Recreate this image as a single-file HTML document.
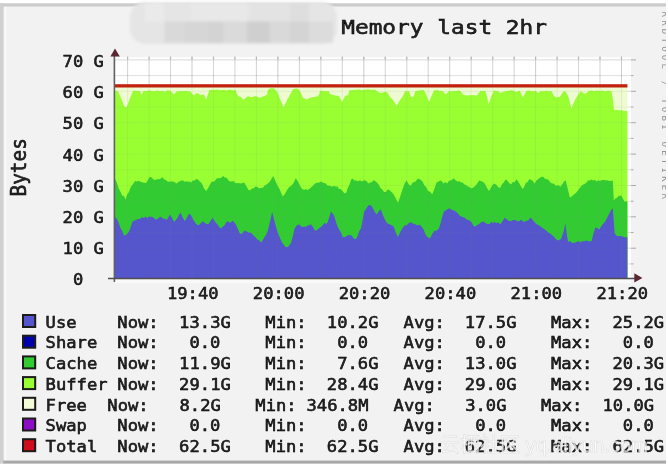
<!DOCTYPE html><html><head><meta charset="utf-8"><title>Memory last 2hr</title><style>html,body{margin:0;padding:0;background:#fff;width:668px;height:467px;overflow:hidden}svg{display:block}text{font-family:"DejaVu Sans Mono","Liberation Mono",monospace;fill:#262626}</style></head><body><svg width="668" height="467" viewBox="0 0 668 467"><defs><filter id="bl" x="-5%" y="-5%" width="110%" height="110%"><feGaussianBlur stdDeviation="0.6"/></filter></defs><rect x="0" y="0" width="668" height="467" fill="#ffffff"/><g filter="url(#bl)"><rect x="0" y="0" width="668" height="467" fill="#ffffff"/><rect x="0" y="3.2" width="666" height="460.4" fill="#f2f2f2"/><rect x="3.6" y="6.5" width="3" height="454" fill="#f7f7f7"/><rect x="0" y="3.3" width="666" height="3.2" fill="#cccccc"/><rect x="0" y="3.3" width="3.6" height="460.3" fill="#d0d0d0"/><rect x="3.2" y="460.6" width="663" height="3" fill="#a8a8a8"/><defs><filter id="hb" x="-5%" y="-20%" width="110%" height="140%"><feGaussianBlur stdDeviation="1.6"/></filter></defs><g filter="url(#hb)"><rect x="130" y="2" width="207" height="42" rx="15" fill="#e5e5e5"/><rect x="145" y="3" width="19" height="18.5" fill="#eaeaea"/><rect x="191" y="3" width="56" height="18.5" fill="#e8e8e8"/><rect x="250" y="3" width="40" height="18.5" fill="#e3e3e3"/><rect x="290" y="3" width="19" height="18.5" fill="#dedede"/><rect x="164.5" y="21.4" width="19.8" height="21.4" fill="#d9d9d9"/><rect x="184.3" y="21.4" width="23.0" height="21.4" fill="#d6d6d6"/><rect x="207.3" y="21.4" width="16.5" height="21.4" fill="#d3d3d3"/><rect x="223.8" y="21.4" width="23.1" height="21.4" fill="#dadada"/><rect x="246.9" y="21.4" width="23.0" height="21.4" fill="#cfcfcf"/><rect x="269.9" y="21.4" width="19.8" height="21.4" fill="#d9d9d9"/><rect x="289.7" y="21.4" width="19.7" height="21.4" fill="#d4d4d4"/><rect x="309.4" y="21.4" width="23.6" height="21.4" fill="#dcdcdc"/></g><text transform="matrix(1.14 0 0 1 341.20 34.00)" style="font-size:20.0px;letter-spacing:0.0px;stroke:#000;stroke-width:0.5px">Memory last 2hr</text><rect x="114.5" y="57.3" width="516.5" height="221.7" fill="#ffffff"/><g><line x1="114.5" y1="263.9" x2="631" y2="263.9" stroke="#808080" stroke-opacity="0.180" stroke-width="1"/><line x1="114.5" y1="248.2" x2="631" y2="248.2" stroke="#808080" stroke-opacity="0.220" stroke-width="1"/><line x1="114.5" y1="232.5" x2="631" y2="232.5" stroke="#808080" stroke-opacity="0.180" stroke-width="1"/><line x1="114.5" y1="216.8" x2="631" y2="216.8" stroke="#808080" stroke-opacity="0.220" stroke-width="1"/><line x1="114.5" y1="201.2" x2="631" y2="201.2" stroke="#808080" stroke-opacity="0.180" stroke-width="1"/><line x1="114.5" y1="185.5" x2="631" y2="185.5" stroke="#808080" stroke-opacity="0.220" stroke-width="1"/><line x1="114.5" y1="169.8" x2="631" y2="169.8" stroke="#808080" stroke-opacity="0.180" stroke-width="1"/><line x1="114.5" y1="154.1" x2="631" y2="154.1" stroke="#808080" stroke-opacity="0.220" stroke-width="1"/><line x1="114.5" y1="138.4" x2="631" y2="138.4" stroke="#808080" stroke-opacity="0.180" stroke-width="1"/><line x1="114.5" y1="122.7" x2="631" y2="122.7" stroke="#808080" stroke-opacity="0.220" stroke-width="1"/><line x1="114.5" y1="107.0" x2="631" y2="107.0" stroke="#808080" stroke-opacity="0.180" stroke-width="1"/><line x1="114.5" y1="91.3" x2="631" y2="91.3" stroke="#808080" stroke-opacity="0.220" stroke-width="1"/><line x1="114.5" y1="75.6" x2="631" y2="75.6" stroke="#808080" stroke-opacity="0.180" stroke-width="1"/><line x1="114.5" y1="59.9" x2="631" y2="59.9" stroke="#808080" stroke-opacity="0.220" stroke-width="1"/><line x1="127.6" y1="57.3" x2="127.6" y2="279.0" stroke="#808080" stroke-opacity="0.260" stroke-width="1"/><line x1="149.1" y1="57.3" x2="149.1" y2="279.0" stroke="#808080" stroke-opacity="0.260" stroke-width="1"/><line x1="170.5" y1="57.3" x2="170.5" y2="279.0" stroke="#808080" stroke-opacity="0.260" stroke-width="1"/><line x1="192.0" y1="57.3" x2="192.0" y2="279.0" stroke="#808080" stroke-opacity="0.300" stroke-width="1"/><line x1="213.5" y1="57.3" x2="213.5" y2="279.0" stroke="#808080" stroke-opacity="0.260" stroke-width="1"/><line x1="234.9" y1="57.3" x2="234.9" y2="279.0" stroke="#808080" stroke-opacity="0.260" stroke-width="1"/><line x1="256.4" y1="57.3" x2="256.4" y2="279.0" stroke="#808080" stroke-opacity="0.260" stroke-width="1"/><line x1="277.9" y1="57.3" x2="277.9" y2="279.0" stroke="#808080" stroke-opacity="0.300" stroke-width="1"/><line x1="299.4" y1="57.3" x2="299.4" y2="279.0" stroke="#808080" stroke-opacity="0.260" stroke-width="1"/><line x1="320.9" y1="57.3" x2="320.9" y2="279.0" stroke="#808080" stroke-opacity="0.260" stroke-width="1"/><line x1="342.3" y1="57.3" x2="342.3" y2="279.0" stroke="#808080" stroke-opacity="0.260" stroke-width="1"/><line x1="363.8" y1="57.3" x2="363.8" y2="279.0" stroke="#808080" stroke-opacity="0.300" stroke-width="1"/><line x1="385.3" y1="57.3" x2="385.3" y2="279.0" stroke="#808080" stroke-opacity="0.260" stroke-width="1"/><line x1="406.8" y1="57.3" x2="406.8" y2="279.0" stroke="#808080" stroke-opacity="0.260" stroke-width="1"/><line x1="428.2" y1="57.3" x2="428.2" y2="279.0" stroke="#808080" stroke-opacity="0.260" stroke-width="1"/><line x1="449.7" y1="57.3" x2="449.7" y2="279.0" stroke="#808080" stroke-opacity="0.300" stroke-width="1"/><line x1="471.2" y1="57.3" x2="471.2" y2="279.0" stroke="#808080" stroke-opacity="0.260" stroke-width="1"/><line x1="492.7" y1="57.3" x2="492.7" y2="279.0" stroke="#808080" stroke-opacity="0.260" stroke-width="1"/><line x1="514.1" y1="57.3" x2="514.1" y2="279.0" stroke="#808080" stroke-opacity="0.260" stroke-width="1"/><line x1="535.6" y1="57.3" x2="535.6" y2="279.0" stroke="#808080" stroke-opacity="0.300" stroke-width="1"/><line x1="557.1" y1="57.3" x2="557.1" y2="279.0" stroke="#808080" stroke-opacity="0.260" stroke-width="1"/><line x1="578.5" y1="57.3" x2="578.5" y2="279.0" stroke="#808080" stroke-opacity="0.260" stroke-width="1"/><line x1="600.0" y1="57.3" x2="600.0" y2="279.0" stroke="#808080" stroke-opacity="0.260" stroke-width="1"/><line x1="621.5" y1="57.3" x2="621.5" y2="279.0" stroke="#808080" stroke-opacity="0.300" stroke-width="1"/></g><rect x="114.5" y="86" width="512.9" height="193.0" fill="#eefad0"/><polygon points="114.5,91.0 116.2,90.7 118.0,91.0 118.3,92.0 121.0,98.0 122.8,102.8 124.6,107.0 126.7,107.0 128.3,102.7 130.0,98.0 133.0,91.0 134.8,90.8 136.5,91.0 138.2,91.0 140.0,91.0 141.7,95.0 143.5,91.0 145.2,91.1 146.9,91.3 148.6,90.6 150.3,90.6 152.0,91.3 153.7,90.9 155.4,91.2 157.1,90.5 158.8,91.0 160.5,91.2 162.2,90.8 163.9,91.4 165.6,91.4 167.3,90.6 169.0,90.6 170.7,91.0 172.3,92.8 174.0,94.6 177.0,91.0 178.7,91.5 180.4,91.0 182.1,90.9 183.8,91.2 185.4,90.9 187.1,91.1 188.8,91.4 190.5,91.5 193.6,95.6 195.3,94.3 197.0,93.0 199.0,94.1 201.0,95.6 203.5,94.0 206.2,99.8 209.0,91.0 209.5,90.0 211.1,89.8 212.8,89.7 214.4,90.0 216.0,89.8 217.6,89.6 219.2,90.3 220.9,90.1 222.5,90.1 224.1,89.7 225.8,90.4 227.4,90.3 229.0,89.7 230.6,89.8 232.2,90.2 233.9,90.2 235.5,90.0 238.0,96.0 241.0,97.0 243.0,99.8 246.0,97.7 248.0,96.0 250.0,96.9 252.0,97.0 254.0,96.4 256.0,96.0 258.0,97.2 260.0,97.7 262.0,97.0 264.0,96.0 266.9,95.0 268.0,90.0 270.0,88.5 272.0,88.3 274.0,88.5 275.5,90.0 277.3,92.0 280.0,99.0 281.8,103.1 283.6,107.0 285.3,103.8 287.0,100.0 288.7,97.3 290.3,94.0 292.0,91.0 293.0,89.0 294.8,89.1 296.5,88.6 298.3,89.0 300.4,92.0 303.0,97.7 304.9,98.5 306.7,99.8 308.4,99.0 310.0,97.7 312.0,97.3 314.0,97.0 317.0,96.5 319.0,95.0 320.0,91.0 321.7,90.7 323.4,91.0 325.2,91.2 326.9,91.2 328.6,91.0 330.0,94.0 331.7,94.4 333.3,95.0 335.0,95.6 337.0,95.8 339.0,96.0 342.2,102.0 345.0,96.0 348.0,95.0 349.5,90.0 351.2,90.2 352.9,90.0 354.5,89.8 356.2,89.9 357.9,89.4 359.6,89.4 361.3,90.0 362.9,90.2 364.6,89.8 366.3,89.6 368.0,89.3 369.7,89.6 371.3,90.0 373.0,89.8 374.7,89.5 376.0,90.5 378.0,91.8 380.0,93.0 382.0,92.8 384.0,92.0 387.0,92.0 390.0,97.0 393.0,100.0 394.8,102.8 396.6,106.0 398.3,103.0 400.0,100.0 403.0,96.0 405.0,91.0 407.0,91.4 409.0,91.0 411.0,96.7 413.5,96.7 415.4,91.0 417.1,90.9 418.8,90.6 420.4,90.2 422.1,90.2 423.8,90.0 426.5,95.0 429.0,102.0 431.5,96.0 434.3,90.0 436.0,90.6 437.7,90.0 439.3,90.9 441.0,91.1 442.7,91.0 444.4,93.1 446.0,94.5 449.0,91.0 450.6,91.2 452.3,91.3 453.9,91.0 455.5,91.1 457.1,90.9 458.8,90.6 460.4,91.0 463.0,94.6 464.7,95.3 466.3,95.3 468.0,95.6 469.7,95.1 471.3,95.2 473.0,95.0 475.0,95.3 477.0,95.6 478.6,93.2 480.3,91.0 482.0,90.9 483.8,91.0 485.5,91.0 488.7,104.0 491.5,96.0 494.0,90.5 496.0,90.9 498.0,91.0 500.0,93.0 503.0,92.0 506.0,91.0 507.8,91.0 509.5,90.7 511.2,90.2 513.0,90.5 516.0,92.0 519.0,91.0 520.0,91.0 523.0,97.7 524.6,94.1 526.3,91.0 528.2,90.7 530.1,91.1 531.9,91.3 533.8,91.3 535.7,91.0 538.0,93.0 541.0,91.0 542.7,91.3 544.5,91.3 546.2,90.8 547.9,91.3 549.7,91.2 551.4,91.0 554.0,96.0 556.7,97.7 558.4,96.8 560.0,96.7 562.0,93.4 564.0,91.0 566.0,92.0 568.5,97.0 571.4,108.2 573.2,103.7 575.0,100.0 578.0,95.0 580.8,91.0 582.0,92.0 585.0,94.0 586.7,92.7 588.4,91.0 590.0,90.8 591.7,90.6 593.3,91.1 595.0,90.9 596.6,90.6 598.3,90.7 599.9,91.0 601.5,90.7 603.2,90.8 604.8,91.2 606.5,91.0 608.1,90.8 609.8,91.0 611.4,91.0 613.0,100.0 614.0,110.0 615.7,109.7 617.4,110.1 619.0,110.3 620.7,110.2 622.4,110.3 624.0,111.1 625.7,110.9 627.4,111.0 627.4,279.0 114.5,279.0" fill="#99ff33"/><polygon points="114.5,178.0 115.2,179.0 117.0,183.0 118.8,188.7 120.6,192.0 122.2,195.7 123.9,195.8 125.5,199.5 127.2,194.3 129.0,192.0 130.7,187.0 132.8,184.6 135.0,181.0 136.7,181.6 138.3,180.8 140.0,181.5 142.0,182.3 144.0,182.8 146.0,183.0 147.8,180.2 149.5,177.0 151.3,177.2 153.0,179.0 154.8,180.3 156.7,179.2 158.6,179.2 160.4,179.1 162.3,177.0 164.1,179.6 165.9,180.0 167.7,181.4 169.4,181.7 171.1,181.6 172.8,181.5 174.5,181.9 176.2,183.5 177.8,182.6 179.4,181.4 181.1,180.8 182.7,180.3 184.4,181.8 186.1,181.2 187.8,181.8 189.5,181.4 191.2,182.5 192.8,180.5 194.4,180.4 196.1,179.2 197.7,179.3 199.8,181.4 201.9,183.5 204.1,188.5 206.2,191.0 208.3,187.7 210.5,183.5 212.1,181.3 213.7,181.9 215.3,180.3 216.9,178.2 218.5,178.3 220.1,178.2 221.7,177.2 223.3,176.0 225.0,177.8 226.7,177.8 228.5,180.5 230.2,181.5 231.9,181.4 233.6,180.9 235.3,182.9 237.1,183.2 238.8,183.0 240.5,183.5 242.4,183.1 244.3,182.5 246.4,186.2 248.6,190.0 250.2,190.3 251.8,188.4 253.4,188.5 255.0,186.8 257.1,186.8 259.3,188.5 261.4,187.8 263.0,187.8 264.6,185.5 266.2,184.8 267.8,183.5 269.6,182.1 271.4,179.1 273.2,176.0 275.4,180.8 277.5,185.7 279.3,188.5 281.0,192.4 282.8,196.4 285.0,193.7 287.1,190.0 289.2,187.0 291.4,185.7 293.5,183.0 295.7,178.2 297.9,181.3 300.0,185.7 302.1,188.9 304.2,190.0 305.8,189.0 307.4,190.1 309.1,188.9 310.7,187.8 312.9,185.7 315.0,183.5 317.1,182.8 319.3,182.5 321.4,181.4 323.0,182.7 324.6,183.1 326.2,183.9 327.8,185.7 329.9,185.7 332.1,186.8 334.2,185.7 335.8,186.8 337.4,186.2 339.0,189.0 340.6,189.0 342.4,191.0 344.2,192.9 346.0,193.2 347.8,187.8 349.5,184.6 351.3,179.3 352.9,178.7 354.6,180.7 356.2,180.3 357.8,181.4 359.9,180.3 362.1,181.6 364.2,180.3 366.4,180.9 368.5,183.5 370.1,182.5 371.8,182.3 373.4,180.3 375.2,181.1 376.9,182.4 378.7,184.6 380.5,188.1 382.3,189.4 384.1,192.1 385.9,192.0 387.6,189.5 389.4,190.0 391.2,191.8 393.0,193.4 394.8,196.4 398.0,202.8 400.1,196.8 402.3,190.0 404.4,184.1 406.5,180.3 408.6,184.2 410.8,185.7 412.9,182.3 415.1,182.0 417.2,179.3 419.0,178.8 420.8,180.1 422.6,181.4 424.4,185.4 426.2,186.9 428.0,191.0 430.1,191.8 432.2,194.3 434.4,188.9 436.5,182.5 438.3,181.8 440.1,180.6 441.9,181.4 443.7,183.4 445.4,181.9 447.2,183.5 448.8,181.0 450.4,180.4 452.1,179.8 453.7,178.2 455.8,180.4 457.9,181.4 459.5,181.2 461.1,182.6 462.8,182.6 464.4,184.6 466.1,185.1 467.8,186.6 469.5,187.1 471.2,188.2 472.9,187.8 474.5,186.6 476.1,185.0 477.7,182.7 479.3,180.3 481.1,181.3 482.9,181.7 484.7,183.5 486.9,187.7 489.0,191.0 490.8,188.0 492.5,185.0 494.3,183.5 496.3,184.8 498.3,187.3 500.3,187.8 502.1,184.0 503.8,182.4 505.6,179.3 507.4,180.8 509.2,182.9 511.0,184.6 512.8,181.9 514.6,182.3 516.4,179.3 518.5,181.9 520.7,186.0 522.8,188.9 524.4,186.3 526.0,182.8 527.6,181.9 529.2,179.3 531.0,179.8 532.8,180.9 534.6,183.5 536.7,180.2 538.9,178.4 541.0,177.1 543.1,176.8 545.3,178.9 547.4,179.3 549.0,180.4 550.6,182.7 552.3,183.6 553.9,183.5 556.0,185.9 558.2,185.0 560.3,186.8 562.1,184.5 563.8,181.8 565.6,180.3 567.8,189.1 569.9,197.5 572.0,196.2 574.2,194.3 576.3,192.6 578.5,189.8 580.6,186.8 582.4,184.9 584.2,184.1 586.1,183.1 587.9,180.5 589.7,180.5 591.4,179.4 593.1,180.4 594.9,179.7 596.6,181.4 598.3,180.2 600.0,181.0 601.8,179.9 603.7,180.1 605.5,180.2 607.3,180.2 609.1,180.9 611.0,180.7 612.8,180.8 613.8,200.5 615.4,198.4 617.0,197.7 618.6,195.7 621.5,195.7 624.4,201.5 627.4,201.5 627.4,279.0 114.5,279.0" fill="#33cc33"/><polygon points="114.5,217.0 115.2,217.5 117.0,219.0 118.4,222.0 120.4,228.0 122.1,230.8 123.8,235.0 125.0,235.5 127.0,233.9 129.0,231.6 130.7,226.9 132.3,222.0 134.1,220.6 135.9,220.2 137.7,218.9 139.8,218.9 141.9,217.2 144.0,218.0 145.6,216.4 147.2,218.2 148.9,216.4 150.5,216.7 152.7,217.1 154.8,218.9 156.9,219.5 159.1,217.4 161.2,216.7 163.0,218.7 164.8,218.8 166.6,220.0 168.2,217.7 169.8,214.6 171.9,217.4 174.1,222.0 175.7,220.0 177.3,218.2 178.9,214.9 180.5,212.5 182.7,217.4 184.8,221.0 186.9,217.7 189.1,213.5 191.2,215.6 193.4,220.0 195.6,223.3 197.7,225.3 199.3,224.7 200.9,223.1 202.5,221.6 204.1,222.0 206.2,224.1 208.4,224.2 210.5,220.9 212.6,217.8 214.3,220.5 216.0,223.1 217.8,224.8 219.5,227.5 221.2,228.5 222.8,226.4 224.4,225.5 226.0,222.7 227.6,221.0 229.2,222.4 230.8,222.5 232.5,220.8 234.1,222.1 236.1,225.1 238.0,229.2 240.0,233.9 242.2,233.5 244.3,230.7 246.4,231.2 248.6,232.4 250.7,232.8 252.3,233.9 253.9,236.0 255.5,237.3 257.1,239.2 259.2,240.4 261.4,242.4 263.0,239.7 264.6,236.8 266.2,234.7 267.8,230.7 270.0,221.8 272.1,212.0 275.3,224.2 277.5,231.8 279.6,237.1 281.8,242.0 283.9,245.0 285.9,247.3 288.0,247.0 291.0,243.0 292.8,236.2 294.6,228.5 296.8,225.5 298.9,224.2 300.7,225.9 302.4,226.9 304.2,226.4 305.8,226.9 307.4,225.5 309.1,225.3 310.7,224.2 312.9,226.7 315.0,230.7 317.1,230.1 319.3,228.0 321.4,226.4 323.0,224.8 324.6,223.1 326.2,224.1 327.8,222.1 331.0,211.4 334.2,215.7 336.4,223.4 338.5,228.5 340.6,231.7 342.8,237.1 344.9,237.2 347.1,235.5 349.2,235.0 350.8,235.1 352.4,236.6 354.0,238.8 355.6,239.2 357.4,236.6 359.2,230.9 361.0,228.5 364.2,211.4 366.2,208.7 368.2,205.5 370.2,205.1 372.3,207.1 374.5,211.4 376.6,214.6 378.7,211.5 380.8,209.3 383.0,215.6 385.1,220.0 387.2,223.3 389.4,224.2 391.5,225.3 393.7,226.4 395.9,233.0 398.0,237.1 400.1,232.3 402.3,228.5 404.4,225.6 406.6,225.2 408.7,223.2 410.3,222.2 411.9,222.9 413.5,223.7 415.1,224.2 417.2,225.2 419.4,224.8 421.5,226.4 423.6,229.5 425.8,235.0 428.0,237.6 430.1,238.2 432.2,234.0 434.4,230.7 436.5,230.8 438.7,228.5 440.5,223.8 442.2,216.8 444.0,211.4 445.8,210.2 447.6,209.3 449.4,208.2 451.0,209.4 452.6,210.0 454.2,210.8 455.8,211.4 457.9,213.5 460.1,216.1 462.2,216.7 463.8,217.5 465.4,218.2 467.0,219.7 468.6,220.0 470.2,220.9 471.9,222.7 473.5,226.0 475.1,226.4 477.2,225.0 479.4,223.7 481.5,222.1 483.6,221.5 485.8,223.3 487.9,224.2 489.5,223.9 491.1,221.9 492.7,222.9 494.3,222.1 496.3,223.1 498.3,222.4 500.3,224.2 502.5,221.3 504.6,217.8 506.8,219.3 508.9,221.0 511.0,221.1 513.2,220.0 515.3,220.0 517.0,221.0 518.7,221.5 520.5,220.0 522.2,220.5 523.9,222.1 526.0,221.1 528.2,220.4 530.3,217.8 531.9,218.8 533.5,220.9 535.1,222.8 536.7,224.2 538.8,225.2 541.0,226.8 543.1,228.6 544.8,229.4 546.5,230.8 548.3,232.7 550.0,233.2 551.7,235.0 553.8,236.5 556.0,239.3 558.1,240.4 561.0,239.0 563.5,232.0 565.4,223.6 566.5,232.0 568.0,242.0 569.8,240.9 571.6,242.4 573.5,243.0 575.3,242.5 577.0,241.8 578.7,241.3 580.5,242.6 582.2,240.9 583.9,241.4 585.8,240.5 587.8,241.0 589.7,241.6 591.6,241.0 593.5,233.3 595.4,227.6 597.3,228.1 599.3,229.5 601.2,226.2 603.2,223.7 605.1,221.7 607.0,217.9 609.0,213.9 610.9,210.2 612.8,208.3 614.7,233.4 616.7,235.8 618.6,236.3 620.5,235.7 622.5,236.5 624.4,237.2 627.4,237.2 627.4,279.0 114.5,279.0" fill="#5555cc"/><g><line x1="114.5" y1="263.9" x2="631" y2="263.9" stroke="#808080" stroke-opacity="0.072" stroke-width="1"/><line x1="114.5" y1="248.2" x2="631" y2="248.2" stroke="#808080" stroke-opacity="0.088" stroke-width="1"/><line x1="114.5" y1="232.5" x2="631" y2="232.5" stroke="#808080" stroke-opacity="0.072" stroke-width="1"/><line x1="114.5" y1="216.8" x2="631" y2="216.8" stroke="#808080" stroke-opacity="0.088" stroke-width="1"/><line x1="114.5" y1="201.2" x2="631" y2="201.2" stroke="#808080" stroke-opacity="0.072" stroke-width="1"/><line x1="114.5" y1="185.5" x2="631" y2="185.5" stroke="#808080" stroke-opacity="0.088" stroke-width="1"/><line x1="114.5" y1="169.8" x2="631" y2="169.8" stroke="#808080" stroke-opacity="0.072" stroke-width="1"/><line x1="114.5" y1="154.1" x2="631" y2="154.1" stroke="#808080" stroke-opacity="0.088" stroke-width="1"/><line x1="114.5" y1="138.4" x2="631" y2="138.4" stroke="#808080" stroke-opacity="0.072" stroke-width="1"/><line x1="114.5" y1="122.7" x2="631" y2="122.7" stroke="#808080" stroke-opacity="0.088" stroke-width="1"/><line x1="114.5" y1="107.0" x2="631" y2="107.0" stroke="#808080" stroke-opacity="0.072" stroke-width="1"/><line x1="114.5" y1="91.3" x2="631" y2="91.3" stroke="#808080" stroke-opacity="0.088" stroke-width="1"/><line x1="114.5" y1="75.6" x2="631" y2="75.6" stroke="#808080" stroke-opacity="0.072" stroke-width="1"/><line x1="114.5" y1="59.9" x2="631" y2="59.9" stroke="#808080" stroke-opacity="0.088" stroke-width="1"/><line x1="127.6" y1="57.3" x2="127.6" y2="279.0" stroke="#808080" stroke-opacity="0.104" stroke-width="1"/><line x1="149.1" y1="57.3" x2="149.1" y2="279.0" stroke="#808080" stroke-opacity="0.104" stroke-width="1"/><line x1="170.5" y1="57.3" x2="170.5" y2="279.0" stroke="#808080" stroke-opacity="0.104" stroke-width="1"/><line x1="192.0" y1="57.3" x2="192.0" y2="279.0" stroke="#808080" stroke-opacity="0.120" stroke-width="1"/><line x1="213.5" y1="57.3" x2="213.5" y2="279.0" stroke="#808080" stroke-opacity="0.104" stroke-width="1"/><line x1="234.9" y1="57.3" x2="234.9" y2="279.0" stroke="#808080" stroke-opacity="0.104" stroke-width="1"/><line x1="256.4" y1="57.3" x2="256.4" y2="279.0" stroke="#808080" stroke-opacity="0.104" stroke-width="1"/><line x1="277.9" y1="57.3" x2="277.9" y2="279.0" stroke="#808080" stroke-opacity="0.120" stroke-width="1"/><line x1="299.4" y1="57.3" x2="299.4" y2="279.0" stroke="#808080" stroke-opacity="0.104" stroke-width="1"/><line x1="320.9" y1="57.3" x2="320.9" y2="279.0" stroke="#808080" stroke-opacity="0.104" stroke-width="1"/><line x1="342.3" y1="57.3" x2="342.3" y2="279.0" stroke="#808080" stroke-opacity="0.104" stroke-width="1"/><line x1="363.8" y1="57.3" x2="363.8" y2="279.0" stroke="#808080" stroke-opacity="0.120" stroke-width="1"/><line x1="385.3" y1="57.3" x2="385.3" y2="279.0" stroke="#808080" stroke-opacity="0.104" stroke-width="1"/><line x1="406.8" y1="57.3" x2="406.8" y2="279.0" stroke="#808080" stroke-opacity="0.104" stroke-width="1"/><line x1="428.2" y1="57.3" x2="428.2" y2="279.0" stroke="#808080" stroke-opacity="0.104" stroke-width="1"/><line x1="449.7" y1="57.3" x2="449.7" y2="279.0" stroke="#808080" stroke-opacity="0.120" stroke-width="1"/><line x1="471.2" y1="57.3" x2="471.2" y2="279.0" stroke="#808080" stroke-opacity="0.104" stroke-width="1"/><line x1="492.7" y1="57.3" x2="492.7" y2="279.0" stroke="#808080" stroke-opacity="0.104" stroke-width="1"/><line x1="514.1" y1="57.3" x2="514.1" y2="279.0" stroke="#808080" stroke-opacity="0.104" stroke-width="1"/><line x1="535.6" y1="57.3" x2="535.6" y2="279.0" stroke="#808080" stroke-opacity="0.120" stroke-width="1"/><line x1="557.1" y1="57.3" x2="557.1" y2="279.0" stroke="#808080" stroke-opacity="0.104" stroke-width="1"/><line x1="578.5" y1="57.3" x2="578.5" y2="279.0" stroke="#808080" stroke-opacity="0.104" stroke-width="1"/><line x1="600.0" y1="57.3" x2="600.0" y2="279.0" stroke="#808080" stroke-opacity="0.104" stroke-width="1"/><line x1="621.5" y1="57.3" x2="621.5" y2="279.0" stroke="#808080" stroke-opacity="0.120" stroke-width="1"/><rect x="127.0" y="56.6" width="1.2" height="2.6" fill="#b4b4b4"/><rect x="148.5" y="56.6" width="1.2" height="2.6" fill="#b4b4b4"/><rect x="169.9" y="56.6" width="1.2" height="2.6" fill="#b4b4b4"/><rect x="191.4" y="56.6" width="1.2" height="2.6" fill="#b4b4b4"/><rect x="212.9" y="56.6" width="1.2" height="2.6" fill="#b4b4b4"/><rect x="234.3" y="56.6" width="1.2" height="2.6" fill="#b4b4b4"/><rect x="255.8" y="56.6" width="1.2" height="2.6" fill="#b4b4b4"/><rect x="277.3" y="56.6" width="1.2" height="2.6" fill="#b4b4b4"/><rect x="298.8" y="56.6" width="1.2" height="2.6" fill="#b4b4b4"/><rect x="320.2" y="56.6" width="1.2" height="2.6" fill="#b4b4b4"/><rect x="341.7" y="56.6" width="1.2" height="2.6" fill="#b4b4b4"/><rect x="363.2" y="56.6" width="1.2" height="2.6" fill="#b4b4b4"/><rect x="384.7" y="56.6" width="1.2" height="2.6" fill="#b4b4b4"/><rect x="406.1" y="56.6" width="1.2" height="2.6" fill="#b4b4b4"/><rect x="427.6" y="56.6" width="1.2" height="2.6" fill="#b4b4b4"/><rect x="449.1" y="56.6" width="1.2" height="2.6" fill="#b4b4b4"/><rect x="470.6" y="56.6" width="1.2" height="2.6" fill="#b4b4b4"/><rect x="492.1" y="56.6" width="1.2" height="2.6" fill="#b4b4b4"/><rect x="513.5" y="56.6" width="1.2" height="2.6" fill="#b4b4b4"/><rect x="535.0" y="56.6" width="1.2" height="2.6" fill="#b4b4b4"/><rect x="556.5" y="56.6" width="1.2" height="2.6" fill="#b4b4b4"/><rect x="577.9" y="56.6" width="1.2" height="2.6" fill="#b4b4b4"/><rect x="599.4" y="56.6" width="1.2" height="2.6" fill="#b4b4b4"/><rect x="620.9" y="56.6" width="1.2" height="2.6" fill="#b4b4b4"/><rect x="631" y="263.4" width="2.5" height="1" fill="#aaaaaa"/><rect x="631" y="247.7" width="5" height="1" fill="#aaaaaa"/><rect x="631" y="232.0" width="2.5" height="1" fill="#aaaaaa"/><rect x="631" y="216.3" width="5" height="1" fill="#aaaaaa"/><rect x="631" y="200.7" width="2.5" height="1" fill="#aaaaaa"/><rect x="631" y="185.0" width="5" height="1" fill="#aaaaaa"/><rect x="631" y="169.3" width="2.5" height="1" fill="#aaaaaa"/><rect x="631" y="153.6" width="5" height="1" fill="#aaaaaa"/><rect x="631" y="137.9" width="2.5" height="1" fill="#aaaaaa"/><rect x="631" y="122.2" width="5" height="1" fill="#aaaaaa"/><rect x="631" y="106.5" width="2.5" height="1" fill="#aaaaaa"/><rect x="631" y="90.8" width="5" height="1" fill="#aaaaaa"/><rect x="631" y="75.1" width="2.5" height="1" fill="#aaaaaa"/><rect x="631" y="59.4" width="5" height="1" fill="#aaaaaa"/><rect x="115" y="279.6" width="516" height="3.6" fill="#ffffff" fill-opacity="0.55"/></g><defs><filter id="rb" x="-2%" y="-200%" width="104%" height="500%"><feGaussianBlur stdDeviation="0.45"/></filter></defs><rect x="114.5" y="84.2" width="512.9" height="3.3" fill="#c22010" filter="url(#rb)"/><line x1="114.4" y1="55" x2="114.4" y2="282" stroke="#606060" stroke-width="1.6"/><line x1="108" y1="278.6" x2="636" y2="278.6" stroke="#505050" stroke-width="1.5"/><polygon points="110.4,56.6 115,48.6 119.8,56.6" fill="#5a2630"/><polygon points="634.3,273.2 642.4,277.9 634.3,282.6" fill="#5a2630"/><text transform="matrix(1.06 0 0 1 62.60 67.20)" style="font-size:16.2px;letter-spacing:0.0px;stroke:#000;stroke-width:0.5px">70 G</text><text transform="matrix(1.06 0 0 1 62.60 98.20)" style="font-size:16.2px;letter-spacing:0.0px;stroke:#000;stroke-width:0.5px">60 G</text><text transform="matrix(1.06 0 0 1 62.60 129.40)" style="font-size:16.2px;letter-spacing:0.0px;stroke:#000;stroke-width:0.5px">50 G</text><text transform="matrix(1.06 0 0 1 62.60 160.60)" style="font-size:16.2px;letter-spacing:0.0px;stroke:#000;stroke-width:0.5px">40 G</text><text transform="matrix(1.06 0 0 1 62.60 191.80)" style="font-size:16.2px;letter-spacing:0.0px;stroke:#000;stroke-width:0.5px">30 G</text><text transform="matrix(1.06 0 0 1 62.60 223.00)" style="font-size:16.2px;letter-spacing:0.0px;stroke:#000;stroke-width:0.5px">20 G</text><text transform="matrix(1.06 0 0 1 62.60 254.20)" style="font-size:16.2px;letter-spacing:0.0px;stroke:#000;stroke-width:0.5px">10 G</text><text transform="matrix(1.06 0 0 1 73.00 285.00)" style="font-size:16.2px;letter-spacing:0.0px;stroke:#000;stroke-width:0.5px">0</text><text transform="matrix(1.06 0 0 1 166.90 298.80)" style="font-size:16.2px;letter-spacing:0.0px;stroke:#000;stroke-width:0.5px">19:40</text><text transform="matrix(1.06 0 0 1 252.80 298.80)" style="font-size:16.2px;letter-spacing:0.0px;stroke:#000;stroke-width:0.5px">20:00</text><text transform="matrix(1.06 0 0 1 338.70 298.80)" style="font-size:16.2px;letter-spacing:0.0px;stroke:#000;stroke-width:0.5px">20:20</text><text transform="matrix(1.06 0 0 1 424.60 298.80)" style="font-size:16.2px;letter-spacing:0.0px;stroke:#000;stroke-width:0.5px">20:40</text><text transform="matrix(1.06 0 0 1 510.50 298.80)" style="font-size:16.2px;letter-spacing:0.0px;stroke:#000;stroke-width:0.5px">21:00</text><text transform="matrix(1.06 0 0 1 596.40 298.80)" style="font-size:16.2px;letter-spacing:0.0px;stroke:#000;stroke-width:0.5px">21:20</text><text transform="translate(26.2,196.5) scale(1.07,1) rotate(-90)" style="font-size:19.4px;letter-spacing:0px;stroke:#000;stroke-width:0.5px">Bytes</text><rect x="23" y="315.0" width="12.2" height="12" fill="#5555cc" stroke="#1a1a1a" stroke-width="2"/><text transform="matrix(1.06 0 0 1 45.60 327.70)" style="font-size:16.2px;letter-spacing:0.0px;stroke:#000;stroke-width:0.5px">Use</text><text transform="matrix(1.06 0 0 1 117.30 327.70)" style="font-size:16.2px;letter-spacing:0.0px;stroke:#000;stroke-width:0.5px">Now:</text><text transform="matrix(1.06 0 0 1 230.80 327.70)" text-anchor="end" style="font-size:16.2px;letter-spacing:0.0px;stroke:#000;stroke-width:0.5px">13.3G</text><text transform="matrix(1.06 0 0 1 265.30 327.70)" style="font-size:16.2px;letter-spacing:0.0px;stroke:#000;stroke-width:0.5px">Min:</text><text transform="matrix(1.06 0 0 1 378.50 327.70)" text-anchor="end" style="font-size:16.2px;letter-spacing:0.0px;stroke:#000;stroke-width:0.5px">10.2G</text><text transform="matrix(1.06 0 0 1 403.60 327.70)" style="font-size:16.2px;letter-spacing:0.0px;stroke:#000;stroke-width:0.5px">Avg:</text><text transform="matrix(1.06 0 0 1 516.50 327.70)" text-anchor="end" style="font-size:16.2px;letter-spacing:0.0px;stroke:#000;stroke-width:0.5px">17.5G</text><text transform="matrix(1.06 0 0 1 551.00 327.70)" style="font-size:16.2px;letter-spacing:0.0px;stroke:#000;stroke-width:0.5px">Max:</text><text transform="matrix(1.06 0 0 1 664.20 327.70)" text-anchor="end" style="font-size:16.2px;letter-spacing:0.0px;stroke:#000;stroke-width:0.5px">25.2G</text><rect x="23" y="335.7" width="12.2" height="12" fill="#0000aa" stroke="#1a1a1a" stroke-width="2"/><text transform="matrix(1.06 0 0 1 45.60 348.40)" style="font-size:16.2px;letter-spacing:0.0px;stroke:#000;stroke-width:0.5px">Share</text><text transform="matrix(1.06 0 0 1 117.30 348.40)" style="font-size:16.2px;letter-spacing:0.0px;stroke:#000;stroke-width:0.5px">Now:</text><text transform="matrix(1.06 0 0 1 220.45 348.40)" text-anchor="end" style="font-size:16.2px;letter-spacing:0.0px;stroke:#000;stroke-width:0.5px">0.0</text><text transform="matrix(1.06 0 0 1 265.30 348.40)" style="font-size:16.2px;letter-spacing:0.0px;stroke:#000;stroke-width:0.5px">Min:</text><text transform="matrix(1.06 0 0 1 368.15 348.40)" text-anchor="end" style="font-size:16.2px;letter-spacing:0.0px;stroke:#000;stroke-width:0.5px">0.0</text><text transform="matrix(1.06 0 0 1 403.60 348.40)" style="font-size:16.2px;letter-spacing:0.0px;stroke:#000;stroke-width:0.5px">Avg:</text><text transform="matrix(1.06 0 0 1 506.15 348.40)" text-anchor="end" style="font-size:16.2px;letter-spacing:0.0px;stroke:#000;stroke-width:0.5px">0.0</text><text transform="matrix(1.06 0 0 1 551.00 348.40)" style="font-size:16.2px;letter-spacing:0.0px;stroke:#000;stroke-width:0.5px">Max:</text><text transform="matrix(1.06 0 0 1 653.85 348.40)" text-anchor="end" style="font-size:16.2px;letter-spacing:0.0px;stroke:#000;stroke-width:0.5px">0.0</text><rect x="23" y="356.4" width="12.2" height="12" fill="#33cc33" stroke="#1a1a1a" stroke-width="2"/><text transform="matrix(1.06 0 0 1 45.60 369.10)" style="font-size:16.2px;letter-spacing:0.0px;stroke:#000;stroke-width:0.5px">Cache</text><text transform="matrix(1.06 0 0 1 117.30 369.10)" style="font-size:16.2px;letter-spacing:0.0px;stroke:#000;stroke-width:0.5px">Now:</text><text transform="matrix(1.06 0 0 1 230.80 369.10)" text-anchor="end" style="font-size:16.2px;letter-spacing:0.0px;stroke:#000;stroke-width:0.5px">11.9G</text><text transform="matrix(1.06 0 0 1 265.30 369.10)" style="font-size:16.2px;letter-spacing:0.0px;stroke:#000;stroke-width:0.5px">Min:</text><text transform="matrix(1.06 0 0 1 378.50 369.10)" text-anchor="end" style="font-size:16.2px;letter-spacing:0.0px;stroke:#000;stroke-width:0.5px">7.6G</text><text transform="matrix(1.06 0 0 1 403.60 369.10)" style="font-size:16.2px;letter-spacing:0.0px;stroke:#000;stroke-width:0.5px">Avg:</text><text transform="matrix(1.06 0 0 1 516.50 369.10)" text-anchor="end" style="font-size:16.2px;letter-spacing:0.0px;stroke:#000;stroke-width:0.5px">13.0G</text><text transform="matrix(1.06 0 0 1 551.00 369.10)" style="font-size:16.2px;letter-spacing:0.0px;stroke:#000;stroke-width:0.5px">Max:</text><text transform="matrix(1.06 0 0 1 664.20 369.10)" text-anchor="end" style="font-size:16.2px;letter-spacing:0.0px;stroke:#000;stroke-width:0.5px">20.3G</text><rect x="23" y="377.1" width="12.2" height="12" fill="#99ff33" stroke="#1a1a1a" stroke-width="2"/><text transform="matrix(1.06 0 0 1 45.60 389.80)" style="font-size:16.2px;letter-spacing:0.0px;stroke:#000;stroke-width:0.5px">Buffer</text><text transform="matrix(1.06 0 0 1 117.30 389.80)" style="font-size:16.2px;letter-spacing:0.0px;stroke:#000;stroke-width:0.5px">Now:</text><text transform="matrix(1.06 0 0 1 230.80 389.80)" text-anchor="end" style="font-size:16.2px;letter-spacing:0.0px;stroke:#000;stroke-width:0.5px">29.1G</text><text transform="matrix(1.06 0 0 1 265.30 389.80)" style="font-size:16.2px;letter-spacing:0.0px;stroke:#000;stroke-width:0.5px">Min:</text><text transform="matrix(1.06 0 0 1 378.50 389.80)" text-anchor="end" style="font-size:16.2px;letter-spacing:0.0px;stroke:#000;stroke-width:0.5px">28.4G</text><text transform="matrix(1.06 0 0 1 403.60 389.80)" style="font-size:16.2px;letter-spacing:0.0px;stroke:#000;stroke-width:0.5px">Avg:</text><text transform="matrix(1.06 0 0 1 516.50 389.80)" text-anchor="end" style="font-size:16.2px;letter-spacing:0.0px;stroke:#000;stroke-width:0.5px">29.0G</text><text transform="matrix(1.06 0 0 1 551.00 389.80)" style="font-size:16.2px;letter-spacing:0.0px;stroke:#000;stroke-width:0.5px">Max:</text><text transform="matrix(1.06 0 0 1 664.20 389.80)" text-anchor="end" style="font-size:16.2px;letter-spacing:0.0px;stroke:#000;stroke-width:0.5px">29.1G</text><rect x="23" y="397.8" width="12.2" height="12" fill="#f4fbd8" stroke="#1a1a1a" stroke-width="2"/><text transform="matrix(1.06 0 0 1 45.60 410.50)" style="font-size:16.2px;letter-spacing:0.0px;stroke:#000;stroke-width:0.5px">Free</text><text transform="matrix(1.06 0 0 1 107.30 410.50)" style="font-size:16.2px;letter-spacing:0.0px;stroke:#000;stroke-width:0.5px">Now:</text><text transform="matrix(1.06 0 0 1 220.80 410.50)" text-anchor="end" style="font-size:16.2px;letter-spacing:0.0px;stroke:#000;stroke-width:0.5px">8.2G</text><text transform="matrix(1.06 0 0 1 255.30 410.50)" style="font-size:16.2px;letter-spacing:0.0px;stroke:#000;stroke-width:0.5px">Min:</text><text transform="matrix(1.06 0 0 1 368.50 410.50)" text-anchor="end" style="font-size:16.2px;letter-spacing:0.0px;stroke:#000;stroke-width:0.5px">346.8M</text><text transform="matrix(1.06 0 0 1 393.60 410.50)" style="font-size:16.2px;letter-spacing:0.0px;stroke:#000;stroke-width:0.5px">Avg:</text><text transform="matrix(1.06 0 0 1 506.50 410.50)" text-anchor="end" style="font-size:16.2px;letter-spacing:0.0px;stroke:#000;stroke-width:0.5px">3.0G</text><text transform="matrix(1.06 0 0 1 541.00 410.50)" style="font-size:16.2px;letter-spacing:0.0px;stroke:#000;stroke-width:0.5px">Max:</text><text transform="matrix(1.06 0 0 1 654.20 410.50)" text-anchor="end" style="font-size:16.2px;letter-spacing:0.0px;stroke:#000;stroke-width:0.5px">10.0G</text><rect x="23" y="418.5" width="12.2" height="12" fill="#8c10c4" stroke="#1a1a1a" stroke-width="2"/><text transform="matrix(1.06 0 0 1 45.60 431.20)" style="font-size:16.2px;letter-spacing:0.0px;stroke:#000;stroke-width:0.5px">Swap</text><text transform="matrix(1.06 0 0 1 117.30 431.20)" style="font-size:16.2px;letter-spacing:0.0px;stroke:#000;stroke-width:0.5px">Now:</text><text transform="matrix(1.06 0 0 1 220.45 431.20)" text-anchor="end" style="font-size:16.2px;letter-spacing:0.0px;stroke:#000;stroke-width:0.5px">0.0</text><text transform="matrix(1.06 0 0 1 265.30 431.20)" style="font-size:16.2px;letter-spacing:0.0px;stroke:#000;stroke-width:0.5px">Min:</text><text transform="matrix(1.06 0 0 1 368.15 431.20)" text-anchor="end" style="font-size:16.2px;letter-spacing:0.0px;stroke:#000;stroke-width:0.5px">0.0</text><text transform="matrix(1.06 0 0 1 403.60 431.20)" style="font-size:16.2px;letter-spacing:0.0px;stroke:#000;stroke-width:0.5px">Avg:</text><text transform="matrix(1.06 0 0 1 506.15 431.20)" text-anchor="end" style="font-size:16.2px;letter-spacing:0.0px;stroke:#000;stroke-width:0.5px">0.0</text><text transform="matrix(1.06 0 0 1 551.00 431.20)" style="font-size:16.2px;letter-spacing:0.0px;stroke:#000;stroke-width:0.5px">Max:</text><text transform="matrix(1.06 0 0 1 653.85 431.20)" text-anchor="end" style="font-size:16.2px;letter-spacing:0.0px;stroke:#000;stroke-width:0.5px">0.0</text><rect x="23" y="439.2" width="12.2" height="12" fill="#d0101a" stroke="#1a1a1a" stroke-width="2"/><text transform="matrix(1.06 0 0 1 45.60 451.90)" style="font-size:16.2px;letter-spacing:0.0px;stroke:#000;stroke-width:0.5px">Total</text><text transform="matrix(1.06 0 0 1 117.30 451.90)" style="font-size:16.2px;letter-spacing:0.0px;stroke:#000;stroke-width:0.5px">Now:</text><text transform="matrix(1.06 0 0 1 230.80 451.90)" text-anchor="end" style="font-size:16.2px;letter-spacing:0.0px;stroke:#000;stroke-width:0.5px">62.5G</text><text transform="matrix(1.06 0 0 1 265.30 451.90)" style="font-size:16.2px;letter-spacing:0.0px;stroke:#000;stroke-width:0.5px">Min:</text><text transform="matrix(1.06 0 0 1 378.50 451.90)" text-anchor="end" style="font-size:16.2px;letter-spacing:0.0px;stroke:#000;stroke-width:0.5px">62.5G</text><text transform="matrix(1.06 0 0 1 403.60 451.90)" style="font-size:16.2px;letter-spacing:0.0px;stroke:#000;stroke-width:0.5px">Avg:</text><text transform="matrix(1.06 0 0 1 516.50 451.90)" text-anchor="end" style="font-size:16.2px;letter-spacing:0.0px;stroke:#000;stroke-width:0.5px">62.5G</text><text transform="matrix(1.06 0 0 1 551.00 451.90)" style="font-size:16.2px;letter-spacing:0.0px;stroke:#000;stroke-width:0.5px">Max:</text><text transform="matrix(1.06 0 0 1 664.20 451.90)" text-anchor="end" style="font-size:16.2px;letter-spacing:0.0px;stroke:#000;stroke-width:0.5px">62.5G</text><text transform="translate(662.4,11.5) rotate(90)" style="font-size:9px;fill:#959595;letter-spacing:3.25px">RRDTOOL / TOBI OETIKER</text><rect x="666" y="0" width="2" height="467" fill="#ffffff"/><text x="440" y="452" style="font-family:'Liberation Sans','Noto Sans CJK SC',sans-serif;font-size:20px;fill:#ffffff;fill-opacity:0.75;stroke:#cfcfcf;stroke-width:0.6;stroke-opacity:0.6">云栖社区 yq.aliyun.com</text></g></svg></body></html>
